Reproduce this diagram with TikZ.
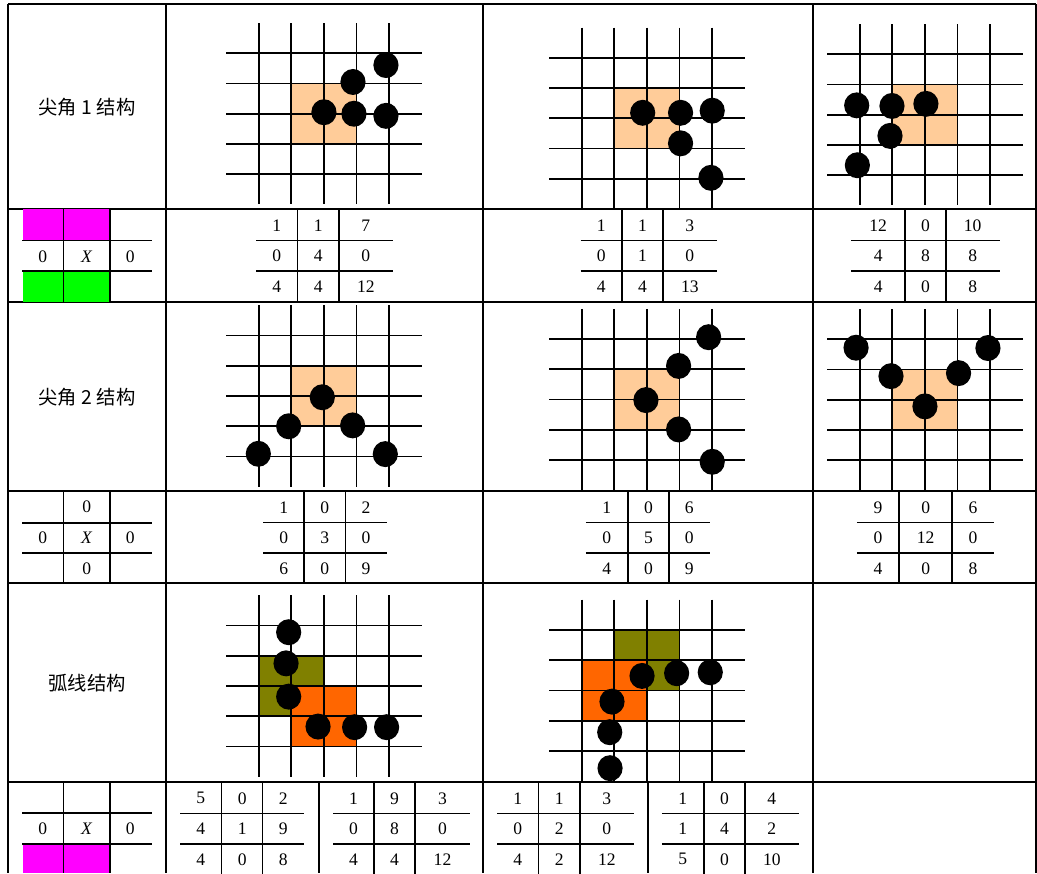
\documentclass[tikz,border=0pt]{standalone}
\usepackage{fontspec}
\setmainfont{Liberation Serif}
\newfontfamily\cjk{Noto Sans CJK SC}
\definecolor{peach}{RGB}{255,204,153}
\definecolor{olivefill}{RGB}{128,128,0}
\definecolor{orangefill}{RGB}{255,102,0}
\definecolor{magentafill}{RGB}{255,0,255}
\definecolor{greenfill}{RGB}{0,255,0}
\tikzset{
  frameline/.style = {line width=1pt, black},
  gridline/.style  = {line width=1pt, black},
  tabline/.style   = {line width=0.9pt, black},
  stone/.style     = {fill=black},
  num/.style       = {font=\fontsize{10}{12}\selectfont, inner sep=0pt},
  rowlabel/.style  = {font=\cjk\fontsize{11}{13}\selectfont, inner sep=0pt},
  board/.style     = {x=0.653cm, y=-0.605cm},
}

% 5x5 lines of a board, in cell units
\newcommand{\boardlines}{%
  \foreach \k in {1,...,5} {
    \draw[gridline] (\k,0) -- (\k,6);
    \draw[gridline] (0,\k) -- (6,\k);
  }}
\newcommand{\stones}[1]{%
  \foreach \sx/\sy in {#1}
    \fill[stone] (\sx,\sy) ellipse[x radius=0.252cm, y radius=0.26cm];}
% value table: name, x-left, sep1, sep2, x-right, row top, three rows
\newcommand{\valtab}[9]{%
  \draw[tabline] (#2,#6+31.5) -- (#5,#6+31.5) (#2,#6+61.7) -- (#5,#6+61.7)
                 (#3,#6) -- (#3,#6+92) (#4,#6) -- (#4,#6+92);
  \foreach \a/\b/\c [count=\r] in {#7,#8,#9} {
    \node[num] (#1-\r-1) at ({(#2+#3)/2}, {#6+16.3+30.5*(\r-1)}) {\a};
    \node[num] (#1-\r-2) at ({(#3+#4)/2}, {#6+16.3+30.5*(\r-1)}) {\b};
    \node[num] (#1-\r-3) at ({(#4+#5)/2}, {#6+16.3+30.5*(\r-1)}) {\c};
  }}

\begin{document}
\begin{tikzpicture}[x=0.02cm, y=-0.02cm]
\useasboundingbox (0,0) rectangle (1037,873);

% ==================== 表格框线 ====================
\foreach \yy in {4,209,302,491,583,782}
  \draw[frameline] (8,\yy) -- (1036,\yy);
\foreach \xx in {8,166,483,813,1036}
  \draw[frameline] (\xx,4) -- (\xx,873);
\draw[frameline] (319,782) -- (319,873);
\draw[frameline] (647.7,782) -- (647.7,873);

% ==================== 左列：结构名称 ====================
\node[rowlabel] (lab1) at (87,107) {尖角 1 结构};
\node[rowlabel] (lab2) at (87,397) {尖角 2 结构};
\node[rowlabel] (lab3) at (87,683) {弧线结构};

% ==================== 左列：模式表 ====================
\fill[magentafill] (22.5,209) rectangle (110,240.7);
\fill[greenfill] (22.5,270.7) rectangle (110,302);
\fill[magentafill] (22.5,844) rectangle (110,873);

\draw[tabline] (22,240.7) -- (152,240.7) (22,270.7) -- (152,270.7)
               (63.7,209) -- (63.7,302) (110,209) -- (110,302);
\node[num] (p1l) at (42.7,256.7) {0};
\node[num] (p1c) at (86.7,256.7) {\textit{X}};
\node[num] (p1r) at (130.3,256.7) {0};

\draw[tabline] (22,522.7) -- (152,522.7) (22,552.7) -- (152,552.7)
               (63.7,491) -- (63.7,583) (110,491) -- (110,583);
\node[num] (p2t) at (86.7,506.7) {0};
\node[num] (p2l) at (42.7,537.3) {0};
\node[num] (p2c) at (86.7,537.3) {\textit{X}};
\node[num] (p2r) at (130.3,537.3) {0};
\node[num] (p2b) at (86.7,568.3) {0};

\draw[tabline] (22,812.7) -- (152,812.7) (22,844) -- (152,844)
               (63.7,782) -- (63.7,873) (110,782) -- (110,873);
\node[num] (p3l) at (42.7,828.3) {0};
\node[num] (p3c) at (86.7,828.3) {\textit{X}};
\node[num] (p3r) at (130.3,828.3) {0};

% ==================== 尖角 1 ====================
\begin{scope}[shift={(226,23)}, board]
  \fill[peach] (2,2) rectangle (4,4);
  \boardlines
  \stones{3/2.95, 3.92/3, 4.9/3.07, 3.89/1.95, 4.9/1.39}
\end{scope}
\begin{scope}[shift={(549,27.5)}, board]
  \fill[peach] (2,2) rectangle (4,4);
  \boardlines
  \stones{2.87/2.82, 4.03/2.82, 5/2.75, 4.03/3.83, 4.96/4.97}
\end{scope}
\begin{scope}[shift={(827,24)}, board]
  \fill[peach] (2,2) rectangle (4,4);
  \boardlines
  \stones{0.91/2.69, 1.99/2.71, 3.03/2.64, 1.93/3.7, 0.93/4.67}
\end{scope}

\valtab{t11}{256}{297.7}{339}{392.7}{209}{1/1/7}{0/4/0}{4/4/12}
\valtab{t12}{580.5}{622}{663}{716.6}{209}{1/1/3}{0/1/0}{4/4/13}
\valtab{t13}{851.2}{905.2}{945.7}{999.7}{209}{12/0/10}{4/8/8}{4/0/8}

% ==================== 尖角 2 ====================
\begin{scope}[shift={(226,305.3)}, board]
  \fill[peach] (2,2) rectangle (4,4);
  \boardlines
  \stones{2.95/3.04, 1.92/4, 3.88/3.97, 0.99/4.91, 4.88/4.92}
\end{scope}
\begin{scope}[shift={(549,308.75)}, board]
  \fill[peach] (2,2) rectangle (4,4);
  \boardlines
  \stones{4.89/0.94, 3.97/1.89, 2.97/3.02, 3.97/3.99, 5/5.06}
\end{scope}
\begin{scope}[shift={(827,309)}, board]
  \fill[peach] (2,2) rectangle (4,4);
  \boardlines
  \stones{0.89/1.28, 1.96/2.22, 3/3.22, 4.03/2.12, 4.93/1.29}
\end{scope}

\valtab{t21}{263.3}{304}{345.3}{386.7}{491}{1/0/2}{0/3/0}{6/0/9}
\valtab{t22}{585.9}{627.8}{669}{709.5}{491}{1/0/6}{0/5/0}{4/0/9}
\valtab{t23}{856.9}{899.2}{952.1}{994}{491}{9/0/6}{0/12/0}{4/0/8}

% ==================== 弧线 ====================
\begin{scope}[shift={(226,595.3)}, board]
  \fill[olivefill] (1,2) rectangle (3,4);
  \fill[orangefill] (2,3) rectangle (4,5);
  \boardlines
  \stones{1.92/1.22, 1.84/2.25, 1.92/3.35, 2.82/4.34, 3.94/4.36, 4.92/4.36}
\end{scope}
\begin{scope}[shift={(549,599.7)}, board]
  \fill[olivefill] (2,1) rectangle (4,3);
  \fill[orangefill] (1,2) rectangle (3,4);
  \boardlines
  \stones{2.85/2.52, 3.91/2.43, 4.94/2.4, 1.93/3.37, 1.86/4.38, 1.87/5.57}
\end{scope}

\valtab{t31}{180}{221.7}{262.7}{304}{782}{5/0/2}{4/1/9}{4/0/8}
\valtab{t32}{333}{374}{415}{470}{782}{1/9/3}{0/8/0}{4/4/12}
\valtab{t33}{497}{538.6}{579.8}{633.8}{782}{1/1/3}{0/2/0}{4/2/12}
\valtab{t34}{661.9}{703.8}{745}{798.7}{782}{1/0/4}{1/4/2}{5/0/10}

\end{tikzpicture}
\end{document}
